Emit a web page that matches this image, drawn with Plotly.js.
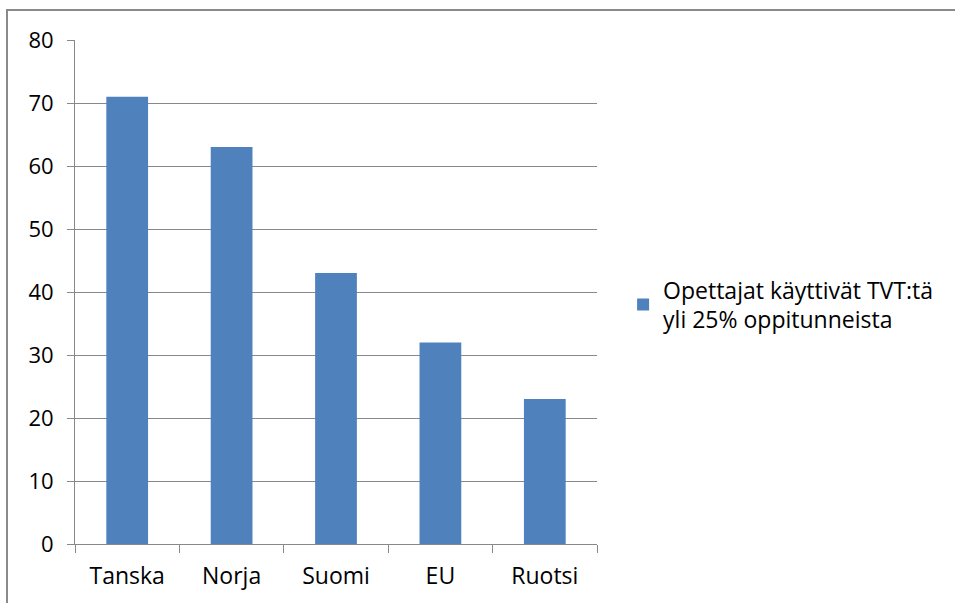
<!DOCTYPE html>
<html>
<head>
<meta charset="utf-8">
<script src="https://cdn.plot.ly/plotly-3.0.1.min.js"></script>
<style>
  html, body { margin: 0; padding: 0; background: #fff; }
  #chart { width: 955px; height: 603px; position: absolute; left: 0; top: 0; }
  #frame { position: absolute; left: 6px; top: 9px; width: 1200px; height: 800px;
           border-top: 2px solid #8a8a8a; border-left: 2px solid #8a8a8a; pointer-events: none; }
  body { width: 955px; height: 603px; overflow: hidden; position: relative; }
</style>
</head>
<body>
<div id="chart"></div>
<div id="frame"></div>
<script>
const categories = ["Tanska", "Norja", "Suomi", "EU", "Ruotsi"];
const values = [71, 63, 43, 32, 23];
const seriesName = "Opettajat käyttivät TVT:tä<br>yli 25% oppitunneista";
const yTicks = [0, 10, 20, 30, 40, 50, 60, 70, 80];

const font = "'Open Sans', sans-serif";

const trace = {
  type: "bar",
  x: categories,
  y: values,
  name: seriesName,
  marker: { color: "#4F81BD" },
  showlegend: true
};

const layout = {
  width: 955,
  height: 603,
  margin: { l: 75, r: 358, t: 40, b: 59 },
  paper_bgcolor: "#ffffff",
  plot_bgcolor: "#ffffff",
  bargap: 0.6,
  font: { family: font, size: 22, color: "#000" },
  showlegend: true,
  legend: {
    x: 1.05, xanchor: "left", xref: "paper",
    y: 0.475, yanchor: "middle",
    font: { family: font, size: 23, color: "#000" },
    itemwidth: 30,
    bgcolor: "rgba(0,0,0,0)",
    borderwidth: 0
  },
  xaxis: {
    type: "category",
    showline: true, linecolor: "#888", linewidth: 1,
    ticks: "outside", tickson: "boundaries", ticklen: 8, tickcolor: "#888", tickwidth: 1,
    showgrid: false,
    tickfont: { family: font, size: 23, color: "#000" },
    ticklabelstandoff: 11
  },
  yaxis: {
    range: [0, 80],
    tickvals: yTicks,
    ticktext: yTicks.map(String),
    showline: true, linecolor: "#888", linewidth: 1,
    ticks: "outside", ticklen: 7, tickcolor: "#888", tickwidth: 1,
    showgrid: true, gridcolor: "#888", gridwidth: 1,
    zeroline: false,
    tickfont: { family: font, size: 22, color: "#000" },
    ticklabelstandoff: 9
  }
};

Plotly.newPlot("chart", [trace], layout, { staticPlot: true, displayModeBar: false });
</script>
</body>
</html>
